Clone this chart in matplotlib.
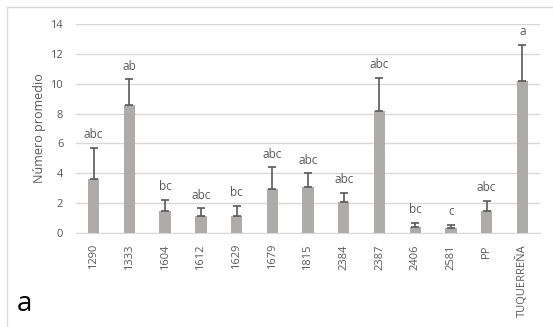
import numpy as np
import matplotlib.pyplot as plt
from matplotlib.lines import Line2D

plt.rcParams['font.family'] = ['Open Sans', 'DejaVu Sans']

lineas = ['1290', '1333', '1604', '1612', '1629', '1679', '1815', '2384',
          '2387', '2406', '2581', 'PP', 'TUQUERREÑA']
media = [3.65, 8.55, 1.45, 1.15, 1.15, 2.95, 3.05, 2.1, 8.15, 0.42, 0.33, 1.5, 10.15]
error = [2.05, 1.75, 0.75, 0.5, 0.65, 1.45, 0.95, 0.6, 2.25, 0.28, 0.2, 0.65, 2.45]
letras = ['abc', 'ab', 'bc', 'abc', 'bc', 'abc', 'abc', 'abc', 'abc', 'bc', 'c', 'abc', 'a']

gris_txt = '#595959'

fig = plt.figure(figsize=(5.53, 3.27), dpi=100)
ax = fig.add_axes([0.137, 0.2875, 0.84, 0.639])

x = np.arange(len(lineas))
ax.bar(x, media, width=0.32, color='#aeabab', zorder=2,
       yerr=[np.zeros(len(media)), error],
       error_kw=dict(ecolor='#595959', elinewidth=1.2, capsize=3.2, capthick=1.2))

for xi, m, e, l in zip(x, media, error, letras):
    ax.text(xi, m + e + 0.45, l, ha='center', va='bottom', fontsize=8.5, color=gris_txt)

ax.set_ylim(0, 14)
ax.set_xlim(-0.5, len(lineas) - 0.5)
ax.set_yticks(np.arange(0, 15, 2))
ax.yaxis.grid(True, color='#d9d9d9', linewidth=1)
ax.set_axisbelow(True)
for s in ['top', 'right', 'left']:
    ax.spines[s].set_visible(False)
ax.spines['bottom'].set_color('#d9d9d9')
ax.tick_params(axis='both', length=0, labelsize=8, labelcolor=gris_txt)
ax.tick_params(axis='y', pad=9)
ax.tick_params(axis='x', pad=8)
ax.set_xticks(x)
ax.set_xticklabels(lineas, rotation=90)
ax.set_ylabel('Número promedio', fontsize=9, color=gris_txt, labelpad=3)

# marco del gráfico
fig.add_artist(Line2D([0.012, 1.0], [0.979, 0.979], color='#d9d9d9', lw=1))
fig.add_artist(Line2D([0.012, 0.012], [0.0, 0.979], color='#d9d9d9', lw=1))

fig.text(0.03, 0.05, 'a', fontsize=20, color='black')

fig.savefig('out.png', dpi=100)
